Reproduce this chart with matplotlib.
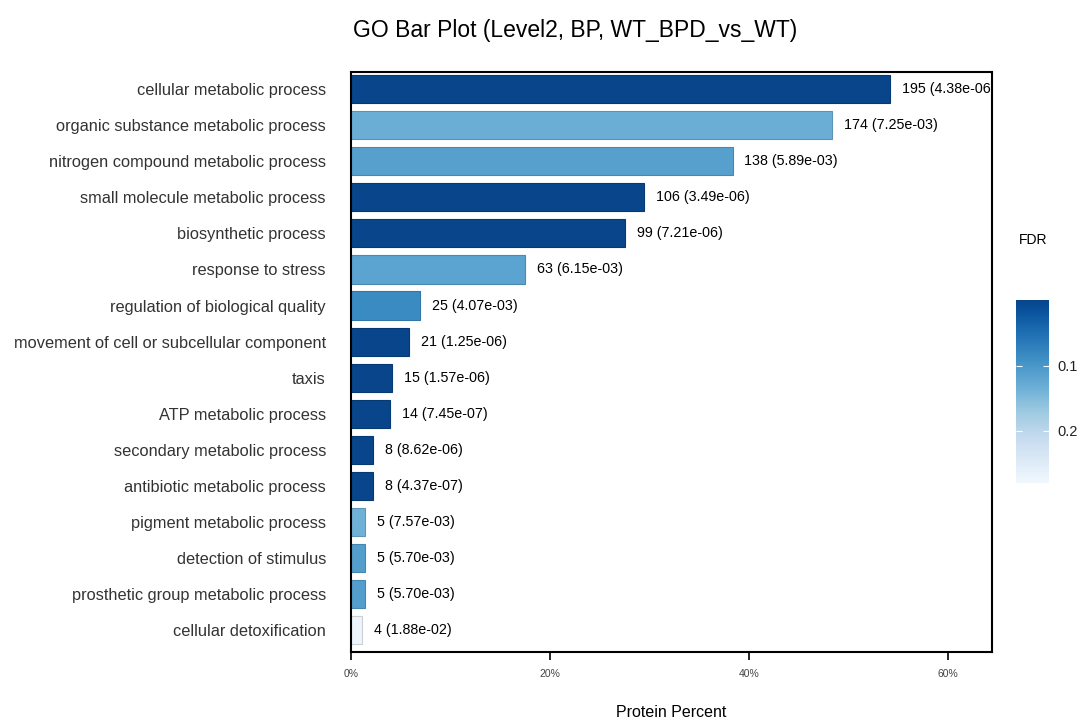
import matplotlib
matplotlib.use("Agg")
import matplotlib.pyplot as plt
import numpy as np
from matplotlib import colors as mcolors
from matplotlib.cm import ScalarMappable

plt.rcParams['font.family'] = ['Liberation Sans', 'DejaVu Sans']

# GO terms, top to bottom
terms = ["cellular metabolic process", "organic substance metabolic process",
         "nitrogen compound metabolic process", "small molecule metabolic process",
         "biosynthetic process", "response to stress", "regulation of biological quality",
         "movement of cell or subcellular component", "taxis", "ATP metabolic process",
         "secondary metabolic process", "antibiotic metabolic process",
         "pigment metabolic process", "detection of stimulus",
         "prosthetic group metabolic process", "cellular detoxification"]
counts = [195, 174, 138, 106, 99, 63, 25, 21, 15, 14, 8, 8, 5, 5, 5, 4]
fdr = [4.38e-06, 7.25e-03, 5.89e-03, 3.49e-06, 7.21e-06, 6.15e-03, 4.07e-03, 1.25e-06,
       1.57e-06, 7.45e-07, 8.62e-06, 4.37e-07, 7.57e-03, 5.70e-03, 5.70e-03, 1.88e-02]
total = 360  # proteins annotated (estimated)

pct = np.array(counts) / total

# blue gradient, dark = low FDR
blues = plt.get_cmap("Blues")
cmap = mcolors.LinearSegmentedColormap.from_list(
    "fdr", [blues(v) for v in np.linspace(0.92, 0.03, 64)])
bar_norm = mcolors.PowerNorm(gamma=0.76, vmin=0, vmax=0.0195)
fc = [cmap(bar_norm(f)) for f in fdr]
ec = [tuple(np.array(c[:3]) * 0.85) + (1,) for c in fc]

fig = plt.figure(figsize=(10.84, 7.2), dpi=100)
ax = fig.add_axes([0.3238, 0.0944, 0.5913, 0.8056])

y = np.arange(len(terms))
ax.barh(y, pct, height=0.78, color=fc, edgecolor=ec, linewidth=0.8)
for yi, p, c, f in zip(y, pct, counts, fdr):
    ax.text(p + 0.012, yi, f"{c} ({f:.2e})", va="center", ha="left",
            fontsize=10.3, color="black", clip_on=True)

ax.set_ylim(len(terms) - 0.4, -0.47)
ax.set_xlim(0, 0.644)
ax.set_yticks(y)
ax.set_yticklabels(terms, fontsize=11.8, color="#333333")
ax.tick_params(axis="y", length=0, pad=18)
ax.set_xticks([0, 0.2, 0.4, 0.6])
ax.set_xticklabels(["0%", "20%", "40%", "60%"], fontsize=7.5, color="#444444")
ax.tick_params(axis="x", length=6, width=1.2, pad=6)
for s in ax.spines.values():
    s.set_linewidth(1.5)
ax.set_xlabel("Protein Percent", fontsize=11.5, labelpad=19)

fig.text(0.531, 0.958, "GO Bar Plot (Level2, BP, WT_BPD_vs_WT)", ha="center",
         va="center", fontsize=16.5)

# colour bar
cax = fig.add_axes([0.937, 0.329, 0.031, 0.254])
sm = ScalarMappable(norm=mcolors.Normalize(0, 0.28), cmap=cmap)
cb = fig.colorbar(sm, cax=cax, ticks=[0.1, 0.2])
cb.outline.set_visible(False)
cax.invert_yaxis()
cax.tick_params(axis="y", colors="white", direction="in", length=4, width=0.8,
                left=True, right=True, labelsize=10.5, labelcolor="#222222", pad=6)
cax.set_yticklabels(["0.1", "0.2"])
fig.text(0.953, 0.667, "FDR", ha="center", va="center", fontsize=10)

fig.savefig("out.png", dpi=100)
